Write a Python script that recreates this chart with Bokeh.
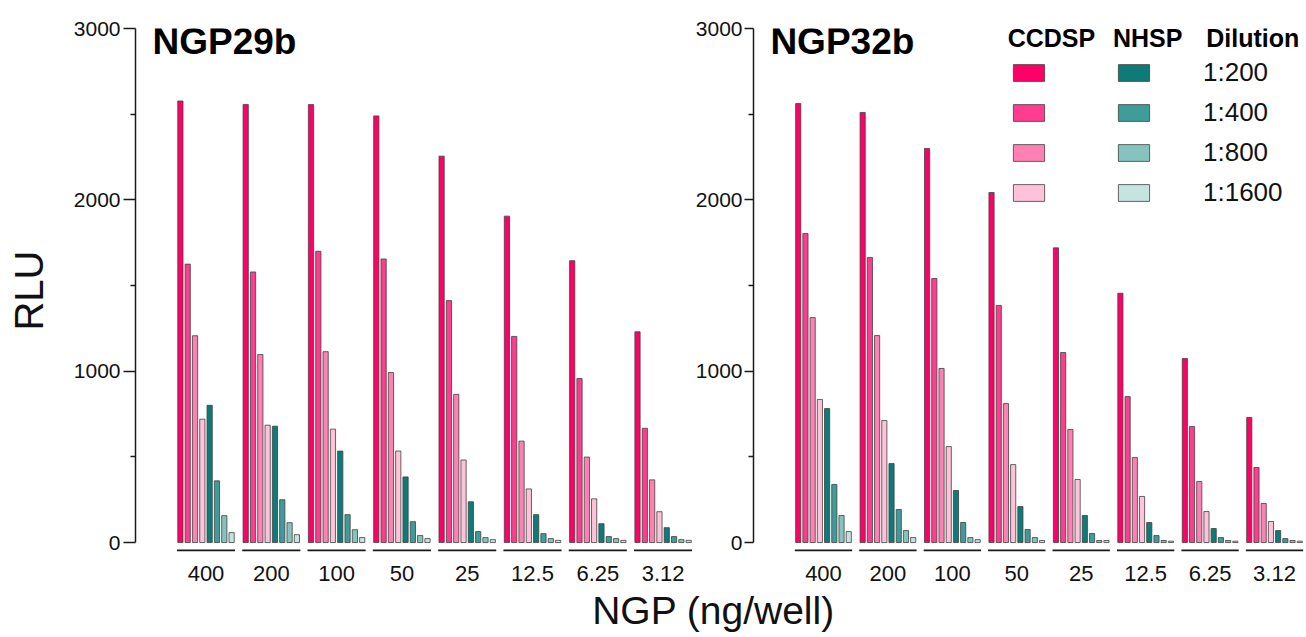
from bokeh.plotting import figure
from bokeh.models import Range1d, FixedTicker, ColumnDataSource, Legend, LegendItem, Label
from bokeh.layouts import row, column
from bokeh.embed import file_html
from bokeh.resources import INLINE

FONT = "Liberation Sans"

# ---------------- data ----------------
groups = ["400", "200", "100", "50", "25", "12.5", "6.25", "3.12"]
dilutions = ["1:200", "1:400", "1:800", "1:1600"]

# NGP29b
ccdsp29_200 = [2577, 2557, 2556, 2490, 2255, 1905, 1645, 1230]
ccdsp29_400 = [1625, 1579, 1700, 1655, 1412, 1203, 957, 667]
ccdsp29_800 = [1207, 1097, 1114, 992, 865, 592, 499, 366]
ccdsp29_1600 = [720, 685, 662, 534, 482, 313, 255, 180]
nhsp29_200 = [801, 679, 534, 383, 238, 163, 110, 87]
nhsp29_400 = [360, 250, 163, 122, 64, 52, 35, 35]
nhsp29_800 = [157, 116, 75, 41, 29, 23, 23, 17]
nhsp29_1600 = [58, 46, 29, 23, 17, 13, 13, 13]

# NGP32b
ccdsp32_200 = [2562, 2510, 2300, 2043, 1720, 1455, 1074, 730]
ccdsp32_400 = [1804, 1664, 1541, 1384, 1109, 852, 677, 438]
ccdsp32_800 = [1313, 1208, 1016, 811, 660, 496, 356, 228]
ccdsp32_1600 = [835, 712, 560, 455, 368, 269, 181, 123]
nhsp32_200 = [782, 461, 304, 210, 158, 117, 82, 70]
nhsp32_400 = [339, 193, 117, 76, 53, 41, 29, 23]
nhsp32_800 = [158, 70, 29, 29, 12, 12, 12, 12]
nhsp32_1600 = [64, 29, 17, 12, 12, 8, 8, 8]

ccdsp_colors = ["#FF0066", "#FF3D8E", "#FF80B2", "#FFC2D9"]
nhsp_colors = ["#0F7B79", "#3E9D9A", "#86C3BF", "#C4E3E1"]

# ---------------- styling / geometry ----------------
BAR_STEP = 0.112
BAR_W = 0.08
Y0, Y1 = -58, 3000
FIG_H = 586
TOP1, TOP2 = 25, 28
BOTTOM = 34
P1 = 65.3
P2 = 64.9
X0_1 = -70.5 / P1
X1_1 = X0_1 + 557 / P1
X0_2 = -70.5 / P2
X1_2 = X0_2 + 556 / P2


def style_panel(p, tick_out, standoff):
    p.outline_line_color = None
    p.xgrid.grid_line_color = None
    p.ygrid.grid_line_color = None
    p.background_fill_color = None
    yax = p.yaxis[0]
    yax.ticker = FixedTicker(ticks=[0, 1000, 2000, 3000], minor_ticks=[500, 1500, 2500])
    yax.bounds = (0, 3000)
    yax.major_tick_out = tick_out
    yax.major_tick_in = 0
    yax.minor_tick_out = 5
    yax.minor_tick_in = 0
    yax.axis_line_width = 1.5
    yax.major_tick_line_width = 1.5
    yax.minor_tick_line_width = 1.5
    yax.axis_line_color = "#1a1a1a"
    yax.major_tick_line_color = "#1a1a1a"
    yax.minor_tick_line_color = "#1a1a1a"
    yax.major_label_text_font = FONT
    yax.major_label_text_font_size = "21px"
    yax.major_label_text_color = "#111111"
    yax.major_label_standoff = standoff

    xax = p.xaxis[0]
    xax.ticker = FixedTicker(ticks=list(range(len(groups))))
    xax.major_label_overrides = {i: g for i, g in enumerate(groups)}
    xax.axis_line_color = None
    xax.major_tick_line_color = None
    xax.minor_tick_line_color = None
    xax.major_label_standoff = 7
    xax.major_label_text_font = FONT
    xax.major_label_text_font_size = "22px"
    xax.major_label_text_color = "#111111"


def draw_bars(p, series):
    rends = []
    n = len(groups)
    for k, (vals, color) in enumerate(series):
        xs = [i + (k - 3.5) * BAR_STEP for i in range(n)]
        src = ColumnDataSource(dict(x=xs, top=vals))
        r = p.vbar(x="x", top="top", bottom=0, width=BAR_W, source=src,
                   fill_color=color, line_color="#404040", line_width=0.8)
        rends.append(r)
    p.segment(x0=[i - 0.445 for i in range(n)], x1=[i + 0.445 for i in range(n)],
              y0=[-46] * n, y1=[-46] * n, line_color="#1a1a1a", line_width=1.8)
    return rends


def header(p, x0, px_unit, fh, text, px_x, px_below_top, size):
    return Label(x=x0 + px_x / px_unit, y=Y1 - px_below_top * (Y1 - Y0) / fh, text=text,
                 text_font=FONT, text_font_style="bold", text_font_size=size,
                 text_baseline="middle", text_align="left", text_color="#000000")


# ---------------- panel 1 ----------------
p1 = figure(width=692, height=FIG_H, x_range=Range1d(X0_1, X1_1), y_range=Range1d(Y0, Y1),
            output_backend="svg", toolbar_location=None,
            min_border_left=135, min_border_right=0, min_border_top=TOP1, min_border_bottom=BOTTOM)
style_panel(p1, 12, 3)
p1.yaxis[0].axis_label = "RLU"
p1.yaxis[0].axis_label_text_font = FONT
p1.yaxis[0].axis_label_text_font_style = "normal"
p1.yaxis[0].axis_label_text_font_size = "40px"
p1.yaxis[0].axis_label_text_color = "#111111"
p1.yaxis[0].axis_label_standoff = 20

series29 = list(zip([ccdsp29_200, ccdsp29_400, ccdsp29_800, ccdsp29_1600], ccdsp_colors)) + \
    list(zip([nhsp29_200, nhsp29_400, nhsp29_800, nhsp29_1600], nhsp_colors))
draw_bars(p1, series29)

fh1 = FIG_H - TOP1 - BOTTOM
p1.add_layout(header(p1, X0_1, P1, fh1, "NGP29b", 17, 13, "37px"))

# ---------------- panel 2 ----------------
p2 = figure(width=613, height=FIG_H, x_range=Range1d(X0_2, X1_2), y_range=Range1d(Y0, Y1),
            output_backend="svg", toolbar_location=None,
            min_border_left=58, min_border_right=0, min_border_top=TOP2, min_border_bottom=BOTTOM)
style_panel(p2, 9, 2)

series32 = list(zip([ccdsp32_200, ccdsp32_400, ccdsp32_800, ccdsp32_1600], ccdsp_colors)) + \
    list(zip([nhsp32_200, nhsp32_400, nhsp32_800, nhsp32_1600], nhsp_colors))
rends = draw_bars(p2, series32)

fh2 = FIG_H - TOP2 - BOTTOM
p2.add_layout(header(p2, X0_2, P2, fh2, "NGP32b", 17, 13, "37px"))


def make_legend(items, loc, standoff):
    leg = Legend(items=items, location=loc,
                 glyph_width=39, glyph_height=21, label_height=31, spacing=9,
                 padding=0, margin=0, border_line_color=None, background_fill_alpha=0,
                 label_text_font=FONT, label_text_font_size="26px", label_text_color="#111111",
                 label_standoff=standoff)
    return leg


leg_c = make_legend([LegendItem(label="", renderers=[rends[k]]) for k in range(4)], (256, 344), 0)
leg_n = make_legend([LegendItem(label=dilutions[k], renderers=[rends[4 + k]]) for k in range(4)],
                    (361, 344), 50)
p2.add_layout(leg_c)
p2.add_layout(leg_n)
p2.add_layout(header(p2, X0_2, P2, fh2, "CCDSP", 1006 - 750, 9, "25px"))
p2.add_layout(header(p2, X0_2, P2, fh2, "NHSP", 1112 - 750, 9, "25px"))
p2.add_layout(header(p2, X0_2, P2, fh2, "Dilution", 1206 - 750, 9, "25px"))

# ---------------- shared x label ----------------
P3_H = 50
p3 = figure(width=1305, height=P3_H, x_range=Range1d(0, 1), y_range=Range1d(0, 1),
            output_backend="svg", toolbar_location=None, min_border=0,
            x_axis_location=None, y_axis_location=None)
p3.outline_line_color = None
p3.xgrid.grid_line_color = None
p3.ygrid.grid_line_color = None
p3.add_layout(Label(x=713 / 1305, y=1 - 24 / P3_H, text="NGP (ng/well)",
                    text_font=FONT, text_font_size="39px", text_align="center",
                    text_baseline="middle", text_color="#111111"))

layout = column(row(p1, p2), p3)
open("out.html", "w").write(file_html(layout, INLINE))
